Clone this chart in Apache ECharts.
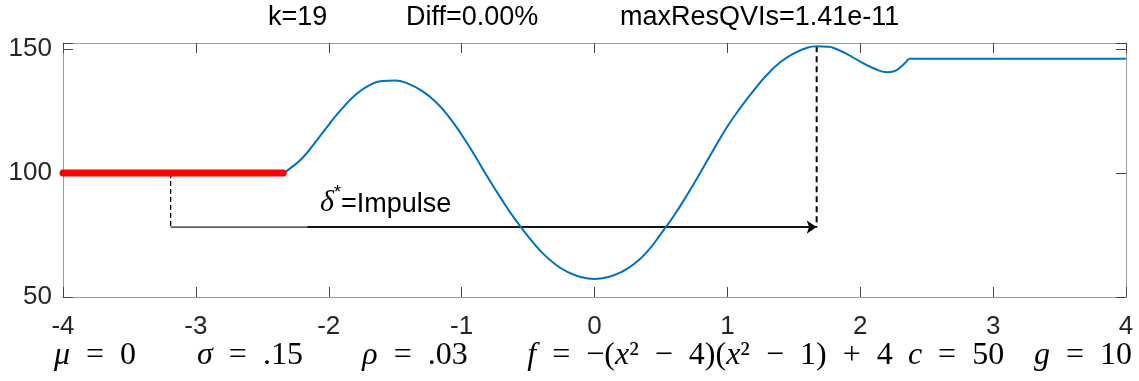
<!DOCTYPE html>
<html>
<head>
<meta charset="utf-8">
<script src="https://cdn.jsdelivr.net/npm/echarts@6/dist/echarts.min.js"></script>
<style>
  html, body { margin: 0; padding: 0; background: #fff; }
  #chart { width: 1139px; height: 381px; }
</style>
</head>
<body>
<div id="chart"></div>
<script>
// values
const curveX = [-2.343, -2.3, -2.2, -2.1, -2.0, -1.9, -1.8, -1.7, -1.6, -1.5, -1.4, -1.3, -1.2, -1.1, -1.0,
  -0.9, -0.8, -0.7, -0.6, -0.5, -0.4, -0.3, -0.2, -0.1, 0, 0.1, 0.2, 0.3, 0.4, 0.5, 0.6, 0.7, 0.8, 0.9,
  1.0, 1.1, 1.2, 1.3, 1.4, 1.5, 1.6, 1.672, 1.75, 1.8, 1.9, 2.0, 2.1, 2.2, 2.25, 2.3, 2.365];
const curveY = [100, 101.5, 106, 112.5, 119.5, 126, 131.5, 135.3, 137.2, 137.4, 136, 133.2, 129, 123, 115.5,
  107, 98, 89.5, 81.5, 74.5, 68.2, 63.4, 60, 58, 57.3, 58, 60, 63.4, 68.5, 75.5, 83, 91.5, 100.5, 109.8,
  118.8, 126.5, 133.5, 139.8, 144.8, 148.3, 150.6, 151.2, 151, 150.5, 148, 145, 142.3, 140.7, 141, 142.6, 146.1];
const flatX = [2.365, 4];
const flatY = [146.1, 146.1];
const redX = [-4, -2.343];
const redY = [100, 100];

const impulseX = -3.19;     // left dashed marker
const peakX = 1.672;        // right dashed marker
const peakY = 151.2;
const arrowY = 78.2;
const boldStart = -2.16;

const yTicks = [50, 100, 150];

const titleParts = ['k=19', 'Diff=0.00%', 'maxResQVIs=1.41e-11'];

const pairs = (xs, ys) => xs.map((x, i) => [x, ys[i]]);

const chart = echarts.init(document.getElementById('chart'));

const axisGray = '#9a9a9a';
const tickGray = '#444';
const labelCol = '#262626';

const serif = '"Liberation Serif", "DejaVu Serif", serif';
const sp = '\u2002';
const rich = {
  n: { fontFamily: serif, fontSize: 32, lineHeight: 40, color: '#111' },
  i: { fontFamily: serif, fontStyle: 'italic', fontSize: 32, lineHeight: 40, color: '#111' }
};
const eq = '{n|' + sp + '=' + sp;

const bottomText = [
  { cx: 95, t: '{i|μ}' + eq + '0}' },
  { cx: 250, t: '{i|σ}' + eq + '.15}' },
  { cx: 415, t: '{i|ρ}' + eq + '.03}' },
  { cx: 710, t: '{i|f}' + eq + '−(}{i|x}{n|²' + sp + '−' + sp + '4)(}{i|x}{n|²' + sp + '−' + sp + '1)' + sp + '+' + sp + '4}' },
  { cx: 956, t: '{i|c}' + eq + '50}' },
  { cx: 1083, t: '{i|g}' + eq + '10}' }
];

const boxAxis = (extra) => Object.assign({
  type: 'value',
  axisLine: { show: true, onZero: false, lineStyle: { color: axisGray, width: 1 } },
  axisTick: { show: true, inside: true, length: 10, lineStyle: { color: tickGray } },
  splitLine: { show: false }
}, extra);

const option = {
  animation: false,
  grid: { left: 63, right: 13, top: 43, bottom: 84 },
  xAxis: [
    boxAxis({
      min: -4, max: 4, interval: 1, position: 'bottom',
      axisLabel: { color: labelCol, fontSize: 26, fontFamily: 'Liberation Sans, Arial', margin: 17 }
    }),
    boxAxis({ min: -4, max: 4, interval: 1, position: 'top', axisLabel: { show: false } })
  ],
  yAxis: [
    boxAxis({
      min: 50, max: 152.5, interval: 50, position: 'left',
      axisLabel: {
        color: labelCol, fontSize: 26, fontFamily: 'Liberation Sans, Arial', margin: 11,
        formatter: v => (yTicks.indexOf(v) >= 0 ? String(v) : '')
      }
    }),
    boxAxis({ min: 50, max: 152.5, interval: 50, position: 'right', axisLabel: { show: false } })
  ],
  series: [
    {
      type: 'line', data: pairs(curveX, curveY), smooth: 0.5, symbol: 'none',
      lineStyle: { color: '#0072BD', width: 2 }, z: 3
    },
    {
      type: 'line', data: pairs(flatX, flatY), symbol: 'none',
      lineStyle: { color: '#0072BD', width: 2 }, z: 3
    },
    {
      type: 'line', data: pairs(redX, redY), symbol: 'none',
      lineStyle: { color: '#ff0000', width: 7, cap: 'round' }, z: 4
    },
    {
      type: 'line', data: [[impulseX, redY[0]], [impulseX, arrowY]], symbol: 'none',
      lineStyle: { color: '#000', width: 1.3, type: [5, 3] }, z: 2
    },
    {
      type: 'line', data: [[peakX, peakY], [peakX, arrowY]], symbol: 'none',
      lineStyle: { color: '#000', width: 2, type: [6, 4] }, z: 2
    },
    {
      type: 'line', data: [[impulseX, arrowY], [peakX, arrowY]], symbol: 'none',
      lineStyle: { color: '#222', width: 1.2 }, z: 2
    },
    {
      type: 'lines', coordinateSystem: 'cartesian2d',
      symbol: ['none', 'arrow'], symbolSize: [9, 10],
      lineStyle: { color: '#000', width: 2, opacity: 1 },
      data: [{ coords: [[boldStart, arrowY], [peakX, arrowY]] }], z: 2
    }
  ],
  graphic: [
    {
      type: 'text', left: 268, top: 4,
      style: { text: titleParts[0], font: '27px "Liberation Sans", Arial', fill: '#000' }
    },
    {
      type: 'text', left: 406, top: 4,
      style: { text: titleParts[1], font: '27px "Liberation Sans", Arial', fill: '#000' }
    },
    {
      type: 'text', left: 620, top: 4,
      style: { text: titleParts[2], font: '27px "Liberation Sans", Arial', fill: '#000' }
    },
    {
      type: 'text', left: 320, top: 184,
      style: {
        text: '{d|δ}{a|*}{t|=Impulse}',
        rich: {
          d: { fontFamily: serif, fontStyle: 'italic', fontSize: 30, lineHeight: 34, verticalAlign: 'bottom', color: '#000' },
          a: { fontFamily: 'Liberation Sans, Arial', fontSize: 18, lineHeight: 20, verticalAlign: 'top', color: '#000' },
          t: { fontFamily: 'Liberation Sans, Arial', fontSize: 27, lineHeight: 34, verticalAlign: 'bottom', color: '#000' }
        }
      }
    }
  ].concat(bottomText.map(b => ({
    type: 'text', x: b.cx, y: 356,
    style: { text: b.t, rich: rich, align: 'center', verticalAlign: 'middle' }
  })))
};

chart.setOption(option);
</script>
</body>
</html>
